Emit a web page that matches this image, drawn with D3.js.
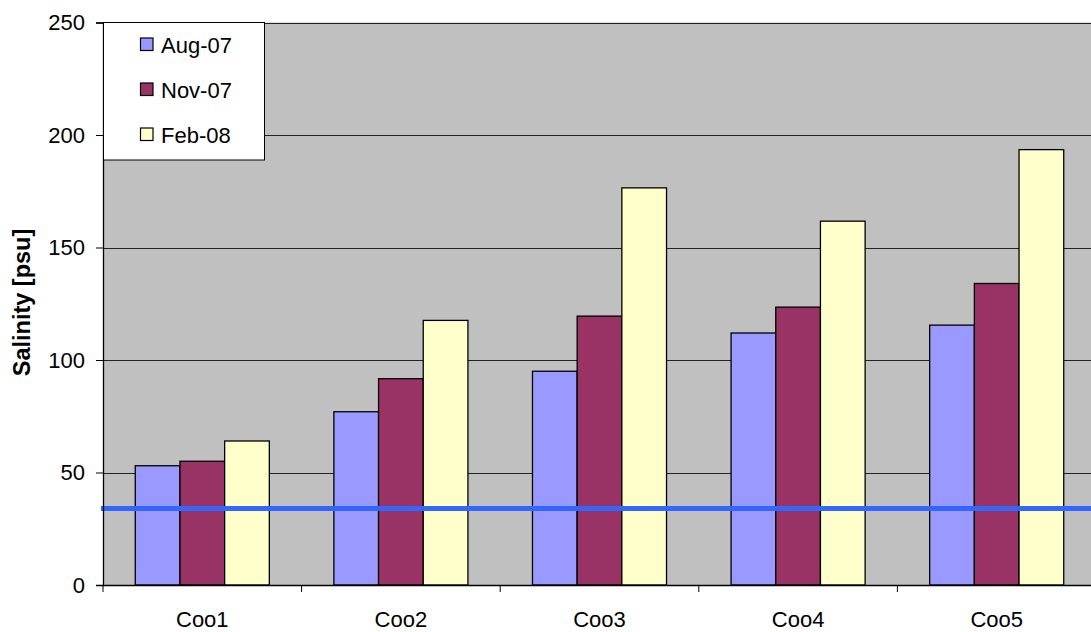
<!DOCTYPE html>
<html>
<head>
<meta charset="utf-8">
<script src="https://cdn.jsdelivr.net/npm/d3@7"></script>
<style>
  html, body { margin: 0; padding: 0; background: #ffffff; }
  svg { display: block; }
  text { font-family: "Liberation Sans", Arial, sans-serif; fill: #000; }
</style>
</head>
<body>
<svg id="chart" width="1091" height="632"></svg>
<script>
// Sampling sites and salinity readings per campaign
const sites = ["Coo1", "Coo2", "Coo3", "Coo4", "Coo5"];
const seriesNames = ["Aug-07", "Nov-07", "Feb-08"];
const aug07 = [53, 77, 95, 112, 115.5];
const nov07 = [55, 91.7, 119.5, 123.5, 134];
const feb08 = [64, 117.6, 176.5, 161.7, 193.5];
const seriesColors = ["#9999ff", "#993366", "#ffffcc"];
const yTicks = [0, 50, 100, 150, 200, 250];
const seawater = 34; // reference salinity of open seawater

const seriesValues = [aug07, nov07, feb08];

const svg = d3.select("#chart");
const plot = { left: 103, top: 22.5, right: 1096, bottom: 585 };
const fontSize = 22;

const y = d3.scaleLinear().domain([0, 250]).range([plot.bottom, plot.top]);

const x0 = d3.scaleBand()
  .domain(sites)
  .range([plot.left, plot.right])
  .paddingInner(0.325)
  .paddingOuter(0.1625);

const x1 = d3.scaleBand()
  .domain(seriesNames)
  .range([0, x0.bandwidth()]);

// plot background
svg.append("rect")
  .attr("x", plot.left).attr("y", plot.top)
  .attr("width", plot.right - plot.left).attr("height", plot.bottom - plot.top)
  .attr("fill", "#c0c0c0");

// horizontal gridlines
svg.append("g")
  .selectAll("line")
  .data(yTicks.filter(t => t > 0))
  .join("line")
  .attr("x1", plot.left).attr("x2", plot.right)
  .attr("y1", d => Math.round(y(d)) + 0.5).attr("y2", d => Math.round(y(d)) + 0.5)
  .attr("stroke", "#222").attr("stroke-width", 1);

// bars
const groups = svg.append("g")
  .selectAll("g")
  .data(sites)
  .join("g")
  .attr("transform", d => `translate(${x0(d)},0)`);

groups.selectAll("rect")
  .data((site, i) => seriesNames.map((s, k) => ({ series: s, k, value: seriesValues[k][i] })))
  .join("rect")
  .attr("x", d => x1(d.series))
  .attr("y", d => y(d.value))
  .attr("width", x1.bandwidth())
  .attr("height", d => y(0) - y(d.value))
  .attr("fill", d => seriesColors[d.k])
  .attr("stroke", "#000")
  .attr("stroke-width", 1.3);

// seawater reference line
svg.append("line")
  .attr("x1", 101).attr("x2", 1091)
  .attr("y1", y(seawater)).attr("y2", y(seawater))
  .attr("stroke", "#3366ff").attr("stroke-width", 5);

// y axis
const yAxis = d3.axisLeft(y).tickValues(yTicks).tickSize(7).tickPadding(11).tickFormat(d3.format("d"));
const gy = svg.append("g").attr("transform", `translate(${plot.left},0)`).call(yAxis);
gy.select(".domain").attr("stroke", "#000").attr("stroke-width", 1.3);
gy.selectAll(".tick line").attr("stroke", "#000");
gy.selectAll(".tick text")
  .attr("font-family", "Liberation Sans, Arial, sans-serif")
  .attr("font-size", fontSize).attr("fill", "#000");

// x axis with category boundary ticks
svg.append("line")
  .attr("x1", plot.left).attr("x2", 1091)
  .attr("y1", plot.bottom + 0.5).attr("y2", plot.bottom + 0.5)
  .attr("stroke", "#000").attr("stroke-width", 1.3);

const step = x0.step();
const boundaries = d3.range(sites.length + 1).map(i => plot.left + i * step);
svg.append("g")
  .selectAll("line")
  .data(boundaries)
  .join("line")
  .attr("x1", d => d).attr("x2", d => d)
  .attr("y1", plot.bottom).attr("y2", plot.bottom + 7)
  .attr("stroke", "#000");

svg.append("g")
  .selectAll("text")
  .data(sites)
  .join("text")
  .attr("x", d => x0(d) + x0.bandwidth() / 2)
  .attr("y", 627)
  .attr("text-anchor", "middle")
  .attr("font-size", fontSize)
  .text(d => d);

// y axis title
svg.append("text")
  .attr("transform", `translate(30,302.5) rotate(-90)`)
  .attr("text-anchor", "middle")
  .attr("font-size", 23.5)
  .attr("font-weight", "bold")
  .text("Salinity [psu]");

// legend
const legend = svg.append("g");
legend.append("rect")
  .attr("x", 103.5).attr("y", 22.5)
  .attr("width", 161).attr("height", 137.5)
  .attr("fill", "#fff").attr("stroke", "#000").attr("stroke-width", 1);

const items = legend.selectAll("g.item")
  .data(seriesNames)
  .join("g")
  .attr("class", "item")
  .attr("transform", (d, i) => `translate(0,${44.5 + i * 45})`);

items.append("rect")
  .attr("x", 140.5).attr("y", -6.5)
  .attr("width", 12.5).attr("height", 12.5)
  .attr("fill", (d, i) => seriesColors[i])
  .attr("stroke", "#000").attr("stroke-width", 1.2);

items.append("text")
  .attr("x", 161).attr("y", 8)
  .attr("font-size", fontSize)
  .text(d => d);
</script>
</body>
</html>
